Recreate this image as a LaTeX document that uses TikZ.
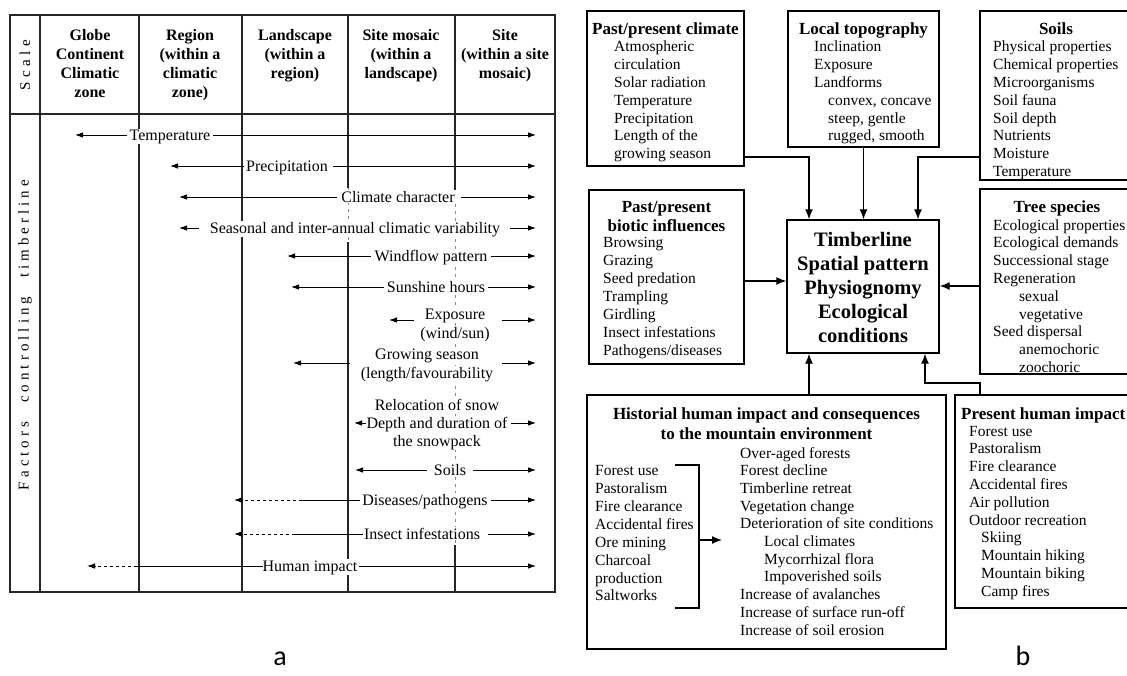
\documentclass[tikz,border=0pt]{standalone}
\usepackage{fontspec}
\setmainfont{Liberation Serif}
\newfontfamily\labfont{Carlito}
\usetikzlibrary{arrows.meta,fit,calc}
\newcommand\facrow[7]{%
  \node[lab] (#1) at (#6,#2+5) {#7};
  \coordinate (#1L) at (#3,#2);
  \coordinate (#1l) at (#4,#2);
  \coordinate (#1r) at (#5,#2);
  \coordinate (#1R) at (536,#2);
  \draw[arrL] (#1l) -- (#1L);
  \draw[arrL] (#1r) -- (#1R);
}
\begin{document}
\begin{tikzpicture}[x=1pt,y=-1pt,
  tbl/.style={line width=1.1pt, draw=black!85},
  faint/.style={line width=0.8pt, draw=black!45, dash pattern=on 3pt off 4pt},
  arrL/.style={line width=0.9pt, -{Latex[length=8pt,width=5.5pt]}},
  plainL/.style={line width=0.9pt},
  dashL/.style={line width=0.9pt, dash pattern=on 3pt off 3pt, -{Latex[length=8pt,width=5.5pt]}},
  lab/.style={fill=white, inner xsep=1pt, inner ysep=1pt, anchor=base, font=\fontsize{16}{19}\selectfont},
  hd/.style={anchor=base, inner sep=0pt, font=\bfseries\fontsize{16}{19}\selectfont},
  rot/.style={rotate=90, inner sep=0pt, font=\fontsize{15}{18}\selectfont},
  box/.style={draw, line width=1.4pt, inner sep=0pt},
  it/.style={anchor=base west, inner sep=0pt, font=\fontsize{15.5}{18}\selectfont},
  ttl/.style={anchor=base, inner sep=0pt, font=\bfseries\fontsize{17}{20}\selectfont},
  big/.style={anchor=base, inner sep=0pt, font=\bfseries\fontsize{20.5}{24}\selectfont},
  con/.style={line width=1.3pt, -{Latex[length=10pt,width=8pt]}},
  plainC/.style={line width=1.3pt},
  panel/.style={anchor=base, inner sep=0pt, font=\labfont\fontsize{28}{30}\selectfont}
]
\useasboundingbox (0,0) rectangle (1127,675);
\fill[white] (0,0) rectangle (1127,675);
\clip (0,0) rectangle (1127,675);

% ================= panel a =================
\draw[tbl] (10,15) rectangle (555,592);
\draw[tbl] (10,114) -- (555,114);
\draw[tbl] (40,15) -- (40,592);
\draw[tbl] (139,15) -- (139,592);
\draw[tbl] (242,15) -- (242,592);
\draw[tbl] (348,15) -- (348,188);
\draw[faint] (348,188) -- (348,242);
\draw[tbl] (348,242) -- (348,592);
\draw[tbl] (455,15) -- (455,190);
\draw[faint] (455,190) -- (455,545);
\draw[tbl] (455,545) -- (455,592);

\node[rot] (scaleT) at (25,65) {\makebox[50pt][s]{S c a l e}};
\node[rot] (factT) at (25,335) {\makebox[310pt][s]{F a c t o r s \quad c o n t r o l l i n g \quad t i m b e r l i n e}};

\foreach \txt [count=\i] in {Globe,Continent,Climatic,zone}
  \node[hd] (hA\i) at (90,21+19*\i) {\txt};
\foreach \txt [count=\i] in {Region,{(within a},climatic,{zone)}}
  \node[hd] (hB\i) at (190,21+19*\i) {\txt};
\foreach \txt [count=\i] in {Landscape,{(within a},{region)}}
  \node[hd] (hC\i) at (295,21+19*\i) {\txt};
\foreach \txt [count=\i] in {Site mosaic,{(within a},{landscape)}}
  \node[hd] (hD\i) at (401,21+19*\i) {\txt};
\foreach \txt [count=\i] in {Site,{(within a site},{mosaic)}}
  \node[hd] (hE\i) at (505,21+19*\i) {\txt};

\facrow{fTemp}{135}{75}{127}{213}{170}{Temperature}
\facrow{fPrec}{166}{170}{244}{333}{287}{Precipitation}
\facrow{fClim}{197}{179}{337}{461}{398}{Climate character}
\facrow{fSeas}{228}{179}{199}{510}{355}{Seasonal and inter-annual climatic variability}
\facrow{fWind}{256}{287}{371}{491}{431}{Windflow pattern}
\facrow{fSun}{287}{291}{384}{488}{436}{Sunshine hours}

% exposure
\node[lab] (fExp1) at (455,319) {Exposure};
\node[lab] (fExp2) at (455,338) {(wind/sun)};
\coordinate (fExpL) at (389,320); \coordinate (fExpl) at (414,320);
\coordinate (fExpr) at (502,320); \coordinate (fExpR) at (536,320);
\draw[arrL] (fExpl) -- (fExpL);
\draw[arrL] (fExpr) -- (fExpR);

% growing season
\node[lab] (fGro1) at (427,359) {Growing season};
\node[lab] (fGro2) at (427,378) {(length/favourability};
\coordinate (fGroL) at (293,363); \coordinate (fGrol) at (350,363);
\coordinate (fGror) at (502,363); \coordinate (fGroR) at (536,363);
\draw[arrL] (fGrol) -- (fGroL);
\draw[arrL] (fGror) -- (fGroR);

% snow
\node[lab] (fSno1) at (437,410) {Relocation of snow};
\node[lab] (fSno2) at (437,428) {Depth and duration of};
\node[lab] (fSno3) at (437,446) {the snowpack};
\coordinate (fSnoL) at (354,423); \coordinate (fSnol) at (366,423);
\coordinate (fSnor) at (511,423); \coordinate (fSnoR) at (536,423);
\draw[arrL] (fSnol) -- (fSnoL);
\draw[arrL] (fSnor) -- (fSnoR);

\facrow{fSoil}{470}{355}{427}{473}{450}{Soils}

% diseases
\node[lab] (fDis) at (425,505) {Diseases/pathogens};
\coordinate (fDisL) at (234,500); \coordinate (fDism) at (302,500);
\coordinate (fDisl) at (360,500); \coordinate (fDisr) at (491,500);
\coordinate (fDisR) at (536,500);
\draw[dashL] (fDism) -- (fDisL);
\draw[plainL] (fDism) -- (fDisl);
\draw[arrL] (fDisr) -- (fDisR);

% insects
\node[lab] (fIns) at (422,539) {Insect infestations};
\coordinate (fInsL) at (234,534); \coordinate (fInsm) at (295,534);
\coordinate (fInsl) at (363,534); \coordinate (fInsr) at (488,534);
\coordinate (fInsR) at (536,534);
\draw[dashL] (fInsm) -- (fInsL);
\draw[plainL] (fInsm) -- (fInsl);
\draw[arrL] (fInsr) -- (fInsR);

% human impact
\node[lab] (fHum) at (310,571) {Human impact};
\coordinate (fHumL) at (87,566); \coordinate (fHumm) at (137,566);
\coordinate (fHuml) at (263,566); \coordinate (fHumr) at (359,566);
\coordinate (fHumR) at (536,566);
\draw[dashL] (fHumm) -- (fHumL);
\draw[plainL] (fHumm) -- (fHuml);
\draw[arrL] (fHumr) -- (fHumR);

\node[panel] (la) at (280,665) {a};

% ================= panel b =================
% past/present climate
\node[box, fit={(587,11)(744,166)}] (clim) {};
\node[ttl, anchor=base west] (climT) at (592,34) {Past/present climate};
\foreach \txt [count=\i] in {Atmospheric,circulation,Solar radiation,Temperature,Precipitation,Length of the,growing season}
  \node[it] (climI\i) at (614,34+17.8*\i) {\txt};

% local topography
\node[box, fit={(788,11)(939,147)}] (topo) {};
\node[ttl] (topoT) at (863.5,34) {Local topography};
\foreach \dx/\txt [count=\i] in {0/Inclination,0/Exposure,0/Landforms,14/{convex, concave},14/{steep, gentle},14/{rugged, smooth}}
  \node[it] (topoI\i) at (814+\dx,34+17.8*\i) {\txt};

% soils
\node[box, fit={(980,11)(1145,180)}] (soil) {};
\node[ttl] (soilT) at (1056,34) {Soils};
\foreach \txt [count=\i] in {Physical properties,Chemical properties,Microorganisms,Soil fauna,Soil depth,Nutrients,Moisture,Temperature}
  \node[it] (soilI\i) at (993,34+17.8*\i) {\txt};

% biotic
\node[box, fit={(589,190)(744,364)}] (biot) {};
\node[ttl] (biotT1) at (666.5,212) {Past/present};
\node[ttl] (biotT2) at (666.5,231) {biotic influences};
\foreach \txt [count=\i] in {Browsing,Grazing,Seed predation,Trampling,Girdling,Insect infestations,Pathogens/diseases}
  \node[it] (biotI\i) at (603,230+17.9*\i) {\txt};

% centre
\node[box, fit={(787,220)(939,353)}] (cent) {};
\foreach \txt [count=\i] in {Timberline,Spatial pattern,Physiognomy,Ecological,conditions}
  \node[big] (centI\i) at (863,222+24*\i) {\txt};

% tree species
\node[box, fit={(980,189)(1145,374)}] (tree) {};
\node[ttl] (treeT) at (1057,212) {Tree species};
\foreach \dx/\txt [count=\i] in {0/Ecological properties,0/Ecological demands,0/Successional stage,0/Regeneration,26/sexual,26/vegetative,0/Seed dispersal,26/anemochoric,26/zoochoric}
  \node[it] (treeI\i) at (993+\dx,212.2+17.8*\i) {\txt};

% historical
\node[box, fit={(587,395)(946,649)}] (hist) {};
\node[ttl] (histT1) at (766.5,419) {Historial human impact and consequences};
\node[ttl] (histT2) at (766.5,439) {to the mountain environment};
\foreach \txt [count=\i] in {Forest use,Pastoralism,Fire clearance,Accidental fires,Ore mining,Charcoal,production,Saltworks}
  \node[it] (histL\i) at (595,458.1+17.86*\i) {\txt};
\foreach \dx/\txt [count=\i] in {0/Over-aged forests,0/Forest decline,0/Timberline retreat,0/Vegetation change,0/Deterioration of site conditions,24/Local climates,24/Mycorrhizal flora,24/Impoverished soils,0/Increase of avalanches,0/Increase of surface run-off,0/Increase of soil erosion}
  \node[it] (histR\i) at (740+\dx,440.3+17.7*\i) {\txt};
\coordinate (brTop) at (675,465);
\coordinate (brTR) at (699,465);
\coordinate (brBR) at (699,608);
\coordinate (brBot) at (675,608);
\draw[plainC, line width=1.2pt] (brTop) -- (brTR) -- (brBR) -- (brBot);
\coordinate (brMid) at (699,540);
\coordinate (brTip) at (722,540);
\draw[con] (brMid) -- (brTip);

% present human impact
\node[box, fit={(955,395)(1145,608)}] (pres) {};
\node[ttl, anchor=base west] (presT) at (961,419) {Present human impact};
\foreach \dx/\txt [count=\i] in {0/Forest use,0/Pastoralism,0/Fire clearance,0/Accidental fires,0/Air pollution,0/Outdoor recreation,12/Skiing,12/Mountain hiking,12/Mountain biking,12/Camp fires}
  \node[it] (presI\i) at (969+\dx,418.2+17.8*\i) {\txt};

% connectors
\coordinate (k1) at (809,157);
\draw[con] (clim.east |- k1) -- (k1) -- (k1 |- cent.north);
\draw[con] (topo.south) -- (topo.south |- cent.north);
\coordinate (k3) at (918,157);
\draw[con] (soil.west |- k3) -- (k3) -- (k3 |- cent.north);
\coordinate (k4) at (787,281);
\draw[con] (biot.east |- k4) -- (cent.west |- k4);
\coordinate (k5) at (939,286);
\draw[con] (tree.west |- k5) -- (cent.east |- k5);
\coordinate (k6) at (809,380);
\draw[con] (hist.north -| k6) -- (cent.south -| k6);
\coordinate (k7) at (980,383);
\coordinate (k8) at (925,383);
\draw[con] (pres.north -| k7) -- (k7) -- (k8) -- (k8 |- cent.south);

\node[panel] (lb) at (1023,665) {b};
\end{tikzpicture}
\end{document}
